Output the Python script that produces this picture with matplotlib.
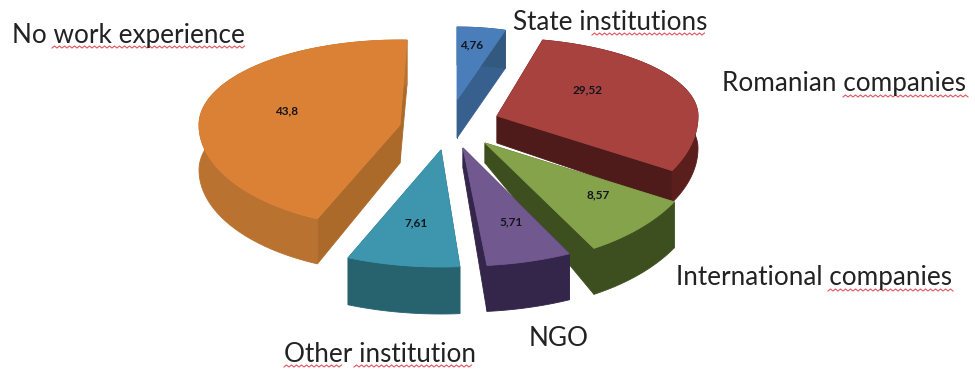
import numpy as np
import matplotlib
matplotlib.use("Agg")
import matplotlib.pyplot as plt
from matplotlib.patches import Polygon

categories = ["State institutions", "Romanian companies", "International companies",
              "NGO", "Other institution", "No work experience"]
values = [4.76, 29.52, 8.57, 5.71, 7.61, 43.8]

top_colors = ["#4A7EBB", "#A8423F", "#85A34B", "#71588F", "#3D96AE", "#DB8136"]
rim_colors = ["#34597F", "#5A1E1C", "#3E4F1F", "#33264A", "#27626F", "#B9722F"]
face_colors = ["#37608F", "#4F1A1A", "#3E4F1F", "#33264A", "#27626F", "#AB6A2A"]

# projection of each exploded slice: apex, half-widths, rotation, extrusion
apex = [(457, 100), (497, 116), (485, 143), (463, 148), (441, 150), (400, 125)]
rx = [164, 201, 216, 240, 239, 201]
ry_back = [73, 78, 120, 116, 117, 85]
ry_front = [73, 111, 122, 118, 117, 103]
rot = [0, -4, -4.6, -0.6, 0.6, 2]
depth_apex = [38, 27, 20, 20, 47, 38]
depth_rim = [38, 32, 46, 46, 47, 45]

label_pos = [(513, 22), (722, 84), (676, 278), (529, 339), (284, 354), (12, 35)]
value_pos = [(472, 45), (588, 90), (598, 195), (511, 222), (416, 223), (287, 111)]
underlined = [("institutions", 592, 706, 34), ("companies", 843, 968, 96),
              ("companies", 828, 954, 290), ("institution", 354, 472, 366),
              ("work experience", 52, 245, 47), ("Other", 284, 343, 366)]

fig = plt.figure(figsize=(9.75, 3.69), dpi=100, facecolor="white")
ax = fig.add_axes([0, 0, 1, 1])
ax.set_xlim(0, 975)
ax.set_ylim(369, 0)
ax.axis("off")

total = sum(values)
edges = np.concatenate([[0], np.cumsum(values)]) * 360 / total


def rim(i, theta):
    t = np.radians(theta + rot[i])
    c = np.cos(t)
    x = apex[i][0] + rx[i] * np.sin(t)
    y = apex[i][1] - np.where(c > 0, ry_back[i], ry_front[i]) * c
    return np.column_stack([x, y])


order = [0, 1, 2, 3, 5, 4]
for z, i in enumerate(order):
    th = np.linspace(edges[i], edges[i + 1], 80)
    arc = rim(i, th)
    arc_low = arc + [0, depth_rim[i]]
    a = np.array(apex[i], float)
    a_low = a + [0, depth_apex[i]]
    zb = 2 + z * 2
    for end in (arc[0], arc[-1]):
        ax.add_patch(Polygon([a, end, end + [0, depth_rim[i]], a_low],
                             closed=True, fc=face_colors[i], ec=face_colors[i], lw=0.6, zorder=zb))
    ax.add_patch(Polygon(np.vstack([arc, arc_low[::-1]]), closed=True,
                         fc=rim_colors[i], ec=rim_colors[i], lw=0.6, zorder=zb))
    ax.add_patch(Polygon(np.vstack([[a], arc]), closed=True, fc=top_colors[i],
                         ec=top_colors[i], lw=0.6, zorder=zb + 1))

for v, (x, y) in zip(values, value_pos):
    ax.text(x, y, str(v).replace(".", ","), fontsize=8.5, fontweight="bold",
            family="Lato", color="#14141e", ha="center", va="center", zorder=30)

for c, (x, y) in zip(categories, label_pos):
    ax.text(x, y, c, fontsize=18.8, family="Lato", color="#222222",
            ha="left", va="center", zorder=30)

for _, x0, x1, y in underlined:
    xs = np.arange(x0, x1 + 1, 2.5)
    ys = y + 1.0 * (-1.0) ** np.arange(len(xs))
    ax.plot(xs, ys, color="#e0555f", lw=0.8, zorder=29)

fig.savefig("out.png", dpi=100, facecolor="white")
